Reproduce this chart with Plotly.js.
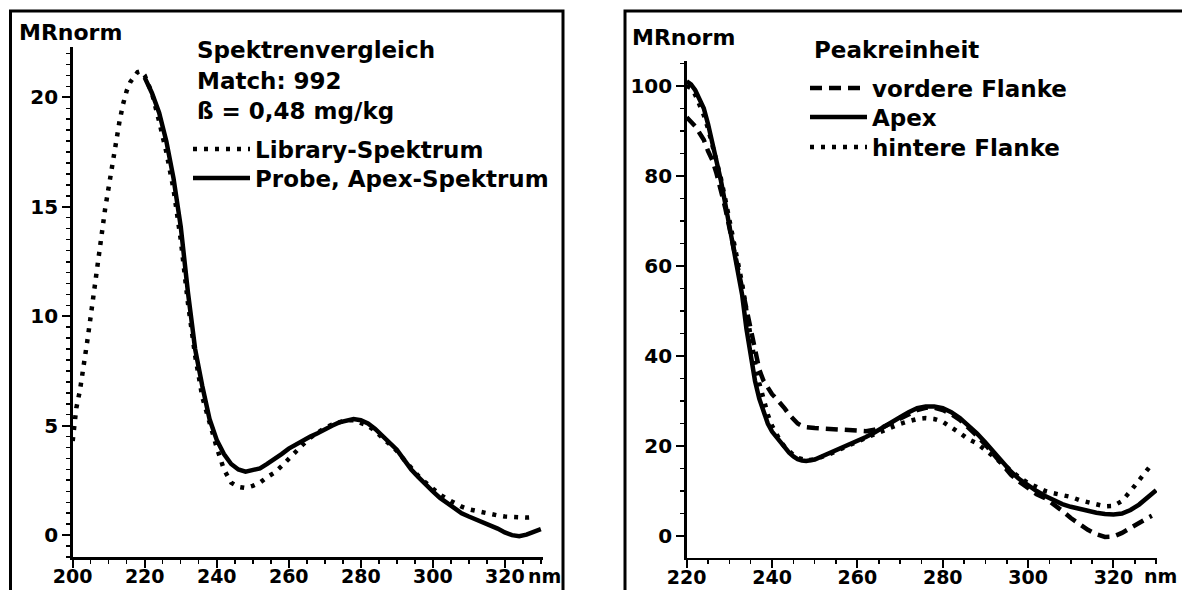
<!DOCTYPE html>
<html>
<head>
<meta charset="utf-8">
<script src="https://cdn.plot.ly/plotly-3.0.1.min.js"></script>
<style>html,body{margin:0;padding:0;background:#fff;} #chart{width:1182px;height:590px;}</style>
</head>
<body>
<div id="chart"></div>
<script>
// ---------- Left panel: Spektrenvergleich ----------
const libWavelength = [200,201,202,203,204,205,206,207,208,209,210,211,212,213,214,215,216,217,218,219,220,221,222,224,226,228,230,232,234,236,238,240,242,244,246,248,250,252,254,256,258,260,262,264,266,268,270,272,274,276,278,280,282,284,286,288,290,292,294,296,298,300,302,304,306,308,310,312,314,316,318,320,322,324,326,328];
const libValues = [4.3,5.8,6.6,7.6,8.8,10.0,11.3,12.7,13.9,14.9,15.9,17.0,18.1,18.9,19.7,20.3,20.7,20.95,21.15,21.2,21.0,20.6,20.2,18.9,17.5,15.8,13.5,10.6,8.2,6.3,5.1,4.0,3.0,2.4,2.2,2.15,2.25,2.4,2.65,2.85,3.15,3.5,3.85,4.15,4.45,4.7,4.9,5.05,5.15,5.25,5.25,5.15,5.0,4.75,4.45,4.2,3.85,3.45,3.05,2.7,2.4,2.1,1.85,1.65,1.45,1.3,1.18,1.1,1.02,0.95,0.9,0.85,0.82,0.8,0.8,0.82];

const probeWavelength = [220,221,222,224,226,228,230,232,234,236,238,240,242,244,246,248,250,252,254,256,258,260,262,264,266,268,270,272,274,276,278,280,282,284,286,288,290,292,294,296,298,300,302,304,306,308,310,312,314,316,318,320,322,324,326,328,330];
const probeValues = [20.9,20.6,20.2,19.3,18.0,16.3,14.1,11.1,8.5,6.8,5.3,4.35,3.7,3.25,3.0,2.9,2.95,3.05,3.25,3.45,3.7,3.95,4.15,4.35,4.5,4.65,4.85,5.0,5.15,5.25,5.3,5.25,5.1,4.85,4.55,4.2,3.9,3.45,3.0,2.65,2.3,2.0,1.7,1.45,1.2,1.0,0.85,0.72,0.6,0.45,0.3,0.12,0.0,-0.05,0.02,0.15,0.27];

const leftXTicks = [200,220,240,260,280,300,320];
const leftYTicks = [0,5,10,15,20];
const leftYMidTicks = [2.5,7.5,12.5,17.5];

// ---------- Right panel: Peakreinheit ----------
const rWavelength = [220,221,222,223,224,225,226,227,228,229,230,231,232,233,234,235,236,237,238,239,240,241,242,243,244,245,246,247,248,250,252,254,256,258,260,262,264,266,268,270,272,274,276,278,280,282,284,286,288,290,292,294,296,298,300,302,304,306,308,310,312,314,316,318,320,322,324,326,328,330];
const apexValues = [101,100.3,99,97,95,91.5,87.5,83.6,79,74,69,64.5,59.5,53.5,46,39.5,34.5,30.5,27.5,25,23.2,22,20.8,19.5,18.5,17.7,17.1,16.8,16.7,17.0,17.8,18.7,19.6,20.4,21.1,22.0,23.0,24.2,25.3,26.4,27.5,28.4,28.8,28.8,28.4,27.5,26.2,24.6,22.8,20.8,18.6,16.3,14.3,12.6,11.2,10.0,8.9,7.9,7.1,6.5,6.0,5.6,5.2,4.9,4.8,5.0,5.8,7.0,8.6,10.2];

const frontWavelength = [220,221,222,223,224,225,226,227,228,229,230,231,232,233,234,235,236,237,238,239,240,241,242,243,244,245,246,247,248,250,252,254,256,258,260,262,264,266,268,270,272,274,276,278,280,282,284,286,288,290,292,294,296,298,300,302,304,306,308,310,312,314,316,318,320,322,324,326,328,329];
const frontValues = [93,92,91,89.5,88,85.5,83.5,80.5,77,73,68.5,64,59.5,55,50,45.5,40.5,37,34.5,33,31.5,30.5,29.5,28.3,27,25.9,25.0,24.5,24.2,24.0,23.9,23.8,23.6,23.5,23.4,23.3,23.6,24.2,25.1,26.1,27.2,28.0,28.5,28.5,28.0,27.1,25.8,24.2,22.3,20.3,18.1,15.8,13.6,12.0,10.5,9.3,8.4,7.1,5.6,4.0,2.6,1.4,0.4,-0.2,-0.1,0.7,1.8,3.0,4.0,4.5];

const backWavelength = [220,221,222,223,224,225,226,227,228,229,230,231,232,233,234,235,236,237,238,239,240,241,242,243,244,245,246,247,248,250,252,254,256,258,260,262,264,266,268,270,272,274,276,278,280,282,284,286,288,290,292,294,296,298,300,302,304,306,308,310,312,314,316,318,320,322,324,326,328,329];
const backValues = [100,99.5,98,96,93.5,90.5,87,83.5,79.5,75,70.5,66,61,56,50,44,38.5,34,30,27,24.5,22.5,21,19.8,18.8,18.0,17.4,17.0,16.8,17.0,17.6,18.4,19.3,20.2,21.0,21.8,22.6,23.4,24.2,24.9,25.5,26.0,26.2,26.0,25.4,24.2,22.9,21.5,20.6,19.1,17.5,16.0,14.5,13.0,11.8,10.8,10.0,9.5,9.2,8.7,8.0,7.5,7.0,6.6,6.7,7.8,10.0,12.4,14.5,16.0];

const rightXTicks = [220,240,260,280,300,320];
const rightYTicks = [0,20,40,60,80,100];

// ---------- Figure ----------
const W = 1182, H = 590;
const px = v => v / W;
const py = v => 1 - v / H;
const FONT = 'DejaVu Sans, Arial, sans-serif';
const tickFont = {family: FONT, size: 20, color: '#000', weight: 'bold'};
const xTickFont = {family: FONT, size: 19, color: '#000', weight: 'bold'};
const DOT = '4px,7px';

const traces = [
  {x: libWavelength, y: libValues, xaxis: 'x', yaxis: 'y', mode: 'lines', name: 'Library-Spektrum',
   line: {color: '#000', width: 4.5, dash: DOT}, legend: 'legend'},
  {x: probeWavelength, y: probeValues, xaxis: 'x', yaxis: 'y', mode: 'lines', name: 'Probe, Apex-Spektrum',
   line: {color: '#000', width: 4.5}, legend: 'legend2'},
  {x: [], y: [], xaxis: 'x', yaxis: 'y3', mode: 'lines', showlegend: false, hoverinfo: 'skip'},
  {x: frontWavelength, y: frontValues, xaxis: 'x2', yaxis: 'y2', mode: 'lines', name: 'vordere Flanke',
   line: {color: '#000', width: 4.5, dash: '12px,7px'}, legend: 'legend3'},
  {x: rWavelength, y: apexValues, xaxis: 'x2', yaxis: 'y2', mode: 'lines', name: 'Apex',
   line: {color: '#000', width: 4.5}, legend: 'legend4'},
  {x: backWavelength, y: backValues, xaxis: 'x2', yaxis: 'y2', mode: 'lines', name: 'hintere Flanke',
   line: {color: '#000', width: 4.5, dash: DOT}, legend: 'legend5'}
];

const axisCommon = {
  showline: true, linecolor: '#000', linewidth: 2.5, ticks: 'outside', ticklen: 8, tickwidth: 2,
  tickcolor: '#000', showgrid: false, zeroline: false, tickfont: tickFont, fixedrange: true
};

const legendCommon = {
  xanchor: 'left', yanchor: 'top', bgcolor: 'rgba(0,0,0,0)', borderwidth: 0,
  font: {family: FONT, size: 23, color: '#000', weight: 'bold'}, itemwidth: 57, traceorder: 'normal'
};
// legend row: top edge = row centre - 22.5
const leg = (x, yc) => Object.assign({}, legendCommon, {x: px(x), y: py(yc - 22.5)});

const annFont = {family: FONT, size: 23, color: '#000', weight: 'bold'};
const ann = (text, x, y, size) => ({
  text: text, xref: 'paper', yref: 'paper', x: px(x), y: py(y), xanchor: 'left', yanchor: 'middle',
  showarrow: false, font: Object.assign({}, annFont, size ? {size: size} : {})
});

const layout = {
  width: W, height: H,
  margin: {l: 0, r: 0, t: 0, b: 0},
  paper_bgcolor: '#fff', plot_bgcolor: 'rgba(0,0,0,0)',
  showlegend: true, hovermode: false,
  xaxis: Object.assign({}, axisCommon, {domain: [px(72.7), px(543)], range: [200, 330.6], anchor: 'y',
    tickvals: leftXTicks, ticklabelstandoff: -7, tickfont: xTickFont,
    minor: {dtick: 5, tick0: 200, ticks: 'outside', ticklen: 4, tickwidth: 1.5, tickcolor: '#000'}}),
  yaxis: Object.assign({}, axisCommon, {domain: [1 - 557/H, 1 - 47/H], range: [-1, 22.3], anchor: 'x',
    tickvals: leftYTicks, minor: {dtick: 0.5, tick0: 0, ticks: 'outside', ticklen: 4, tickwidth: 1.5, tickcolor: '#000'}}),
  yaxis3: {overlaying: 'y', anchor: 'x', side: 'left', range: [-1, 22.3], tickvals: leftYMidTicks,
    ticks: 'outside', ticklen: 6, tickwidth: 2, tickcolor: '#000', showticklabels: false,
    showline: false, showgrid: false, zeroline: false, fixedrange: true},
  xaxis2: Object.assign({}, axisCommon, {domain: [px(686.7), px(1157)], range: [220, 330.2], anchor: 'y2',
    tickvals: rightXTicks, ticklabelstandoff: -7, tickfont: xTickFont,
    minor: {dtick: 5, tick0: 220, ticks: 'outside', ticklen: 4, tickwidth: 1.5, tickcolor: '#000'}}),
  yaxis2: Object.assign({}, axisCommon, {domain: [1 - 557.7/H, 1 - 61/H], range: [-4.8, 105.5], anchor: 'x2',
    tickvals: rightYTicks, minor: {dtick: 5, tick0: 0, ticks: 'outside', ticklen: 4, tickwidth: 1.5, tickcolor: '#000'}}),
  legend: leg(188, 150),
  legend2: leg(188, 179),
  legend3: leg(805, 89),
  legend4: leg(805, 118),
  legend5: leg(805, 148),
  annotations: [
    ann('MRnorm', 17, 32, 22),
    ann('Spektrenvergleich', 195, 50),
    ann('Match: 992', 195, 81),
    ann('ß = 0,48 mg/kg', 195, 111),
    ann('nm', 526, 576, 19),
    ann('MRnorm', 630, 37, 22),
    ann('Peakreinheit', 812, 50),
    ann('nm', 1142, 576, 19)
  ],
  shapes: [
    {type: 'rect', xref: 'paper', yref: 'paper', x0: px(10.5), x1: px(563), y0: -0.1, y1: py(11),
     line: {color: '#000', width: 3}, fillcolor: 'rgba(0,0,0,0)', layer: 'below'},
    {type: 'rect', xref: 'paper', yref: 'paper', x0: px(625), x1: 1.1, y0: -0.1, y1: py(11),
     line: {color: '#000', width: 3}, fillcolor: 'rgba(0,0,0,0)', layer: 'below'}
  ]
};

Plotly.newPlot('chart', traces, layout, {displayModeBar: false, staticPlot: true});
</script>
</body>
</html>
